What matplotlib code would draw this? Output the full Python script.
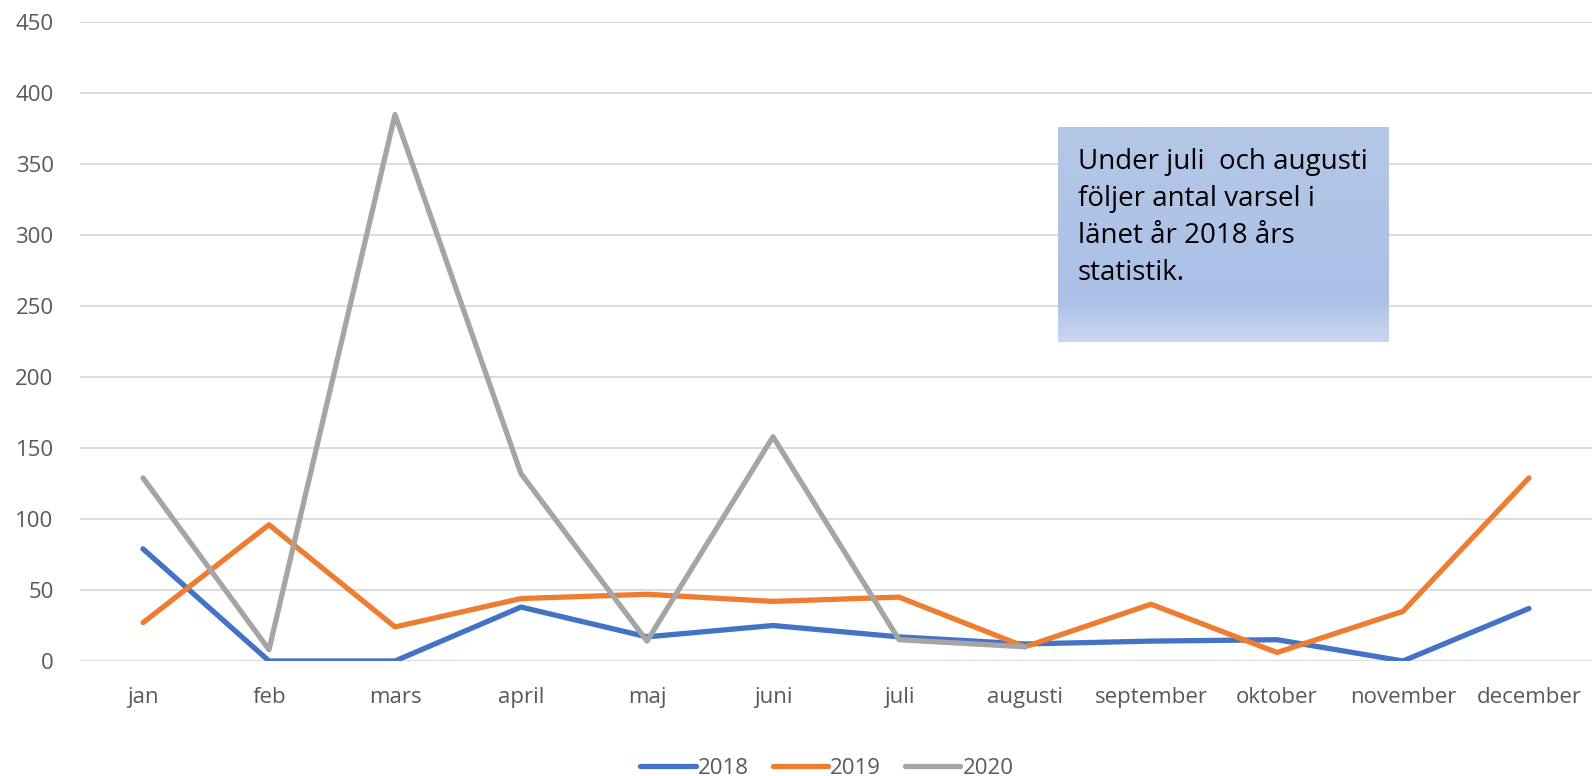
import numpy as np
import matplotlib.pyplot as plt

months = ['jan', 'feb', 'mars', 'april', 'maj', 'juni', 'juli', 'augusti',
          'september', 'oktober', 'november', 'december']
v2018 = [79, 0, 0, 38, 17, 25, 17, 12, 14, 15, 0, 37]
v2019 = [27, 96, 24, 44, 47, 42, 45, 10, 40, 6, 35, 129]
v2020 = [129, 8, 385, 132, 14, 158, 15, 10]
note = 'Under juli  och augusti\nföljer antal varsel i\nlänet år 2018 års\nstatistik.'

plt.rcParams['font.family'] = ['Open Sans', 'DejaVu Sans']

fig = plt.figure(figsize=(15.92, 7.76), dpi=100)
ax = fig.add_axes([80 / 1592, 1 - 661 / 776, 1512 / 1592, (661 - 22.3) / 776])

x = np.arange(len(months))
ax.plot(x, v2018, color='#4472C4', lw=3.8, label='2018', solid_capstyle='round', solid_joinstyle='round')
ax.plot(x, v2019, color='#ED7D31', lw=3.8, label='2019', solid_capstyle='round', solid_joinstyle='round')
ax.plot(x[:len(v2020)], v2020, color='#A5A5A5', lw=3.8, label='2020', solid_capstyle='round', solid_joinstyle='round')

ax.set_xlim(-0.5, 11.5)
ax.set_ylim(0, 450)
ax.set_yticks(np.arange(0, 451, 50))
ax.set_xticks(x)
ax.set_xticklabels(months)
ax.grid(axis='y', color='#D9D9D9', lw=1.3)
ax.set_axisbelow(True)
for s in ax.spines.values():
    s.set_visible(False)
ax.tick_params(length=0, labelsize=16, colors='#595959')
ax.tick_params(axis='x', pad=19)
ax.tick_params(axis='y', pad=19)

ax.legend(loc='upper center', bbox_to_anchor=(0.494, -0.12), ncol=3, frameon=False,
          fontsize=16, labelcolor='#595959', handlelength=2.5, handletextpad=0.1,
          columnspacing=1.05)

# text box with a soft gradient
bx = fig.add_axes([1058 / 1592, 1 - 342 / 776, 331 / 1592, 215 / 776])
top = np.array([180, 199, 231]) / 255
mid = np.array([172, 192, 230]) / 255
bot = np.array([200, 215, 240]) / 255
rows = 100
grad = np.zeros((rows, 1, 3))
for i in range(rows):
    t = i / (rows - 1)
    if t < 0.8:
        grad[i, 0] = top + (mid - top) * t / 0.8
    else:
        grad[i, 0] = mid + (bot - mid) * (t - 0.8) / 0.2
bx.imshow(grad, aspect='auto', extent=[0, 1, 0, 1])
bx.set_axis_off()
bx.text(0.06, 0.90, note, fontsize=20, va='top', ha='left', color='black', linespacing=1.42)

fig.savefig('out.png', dpi=100)
